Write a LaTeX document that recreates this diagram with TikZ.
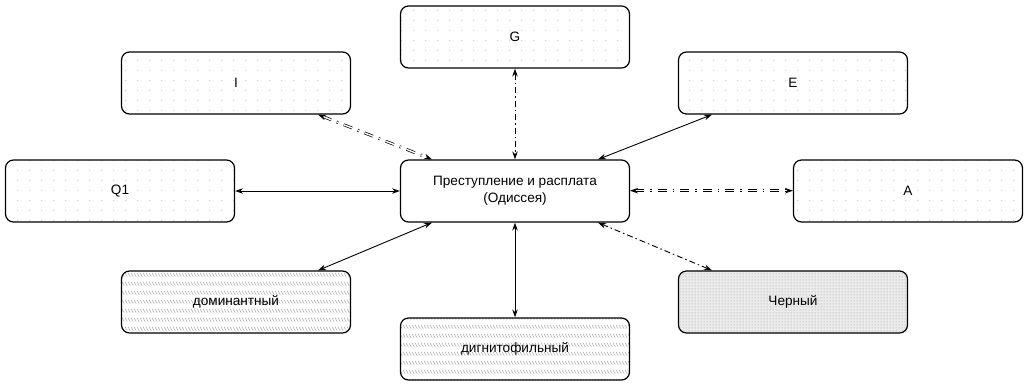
\documentclass[tikz,border=0pt]{standalone}
\usepackage{fontspec}
\setmainfont{Liberation Sans}
\usetikzlibrary{arrows.meta,patterns,patterns.meta}

\tikzdeclarepattern{name=sdots, type=uncolored,
  bounding box={(0pt,0pt) and (12pt,10pt)}, tile size={(12pt,10pt)},
  code={\fill (6pt,5pt) circle (0.6pt);}}
\tikzdeclarepattern{name=hatchrows, type=uncolored,
  bounding box={(0pt,0pt) and (3.4pt,8.6pt)}, tile size={(3.4pt,8.6pt)},
  code={\draw[line width=0.6pt] (0pt,6.4pt) -- (2.6pt,2.4pt);}}
\tikzdeclarepattern{name=fdots, type=uncolored,
  bounding box={(0pt,0pt) and (2.6pt,2.6pt)}, tile size={(2.6pt,2.6pt)},
  code={\fill (1.3pt,1.3pt) circle (0.65pt);}}

\begin{document}
\begin{tikzpicture}[x=1pt,y=-1pt,
  box/.style={draw, line width=1.2pt, rounded corners=8pt, minimum width=229pt,
    minimum height=62pt, inner sep=0pt, align=center,
    font=\fontsize{13.6}{17}\selectfont},
  dotbox/.style={box, pattern=sdots, pattern color=black!24},
  hatchbox/.style={box, preaction={fill=white}, pattern=hatchrows, pattern color=black!32},
  darkbox/.style={box, preaction={fill=black!8}, pattern=fdots, pattern color=black!30},
  conn/.style={line width=0.9pt, {Stealth[length=8pt,width=5.5pt]}-{Stealth[length=8pt,width=5.5pt]}},
  ddash/.style={conn, line width=0.7pt, double, double distance=1.4pt,
    dash pattern=on 9pt off 6pt on 1.5pt off 6pt},
  dashdot/.style={conn, dash pattern=on 6pt off 3pt on 1.5pt off 3pt}
]
\useasboundingbox (0,0) rectangle (1026,384);

\node[box, fill=white] (C) at (515,191) {Преступление и расплата\\(Одиссея)};
\node[dotbox] (G) at (515,37) {G};
\node[dotbox] (I) at (236,83) {I};
\node[dotbox] (E) at (793,83) {E};
\node[dotbox] (Q) at (120,191) {Q1};
\node[dotbox] (A) at (908,191) {A};
\node[hatchbox] (D) at (236,302) {доминантный};
\node[hatchbox] (F) at (515,349) {дигнитофильный};
\node[darkbox] (K) at (793,302) {Черный};

\draw[ddash] ([xshift=82pt]I.south) -- ([xshift=-83pt]C.north);
\draw[dashdot] (G.south) -- (C.north);
\draw[conn] ([xshift=-81pt]E.south) -- ([xshift=83pt]C.north);
\draw[conn] (Q.east) -- (C.west);
\draw[ddash] ([yshift=0.3pt]C.east) -- ([yshift=0.3pt]A.west);
\draw[conn] ([xshift=82pt]D.north) -- ([xshift=-83pt]C.south);
\draw[conn] (F.north) -- (C.south);
\draw[dashdot] ([xshift=-81pt]K.north) -- ([xshift=83pt]C.south);
\end{tikzpicture}
\end{document}
